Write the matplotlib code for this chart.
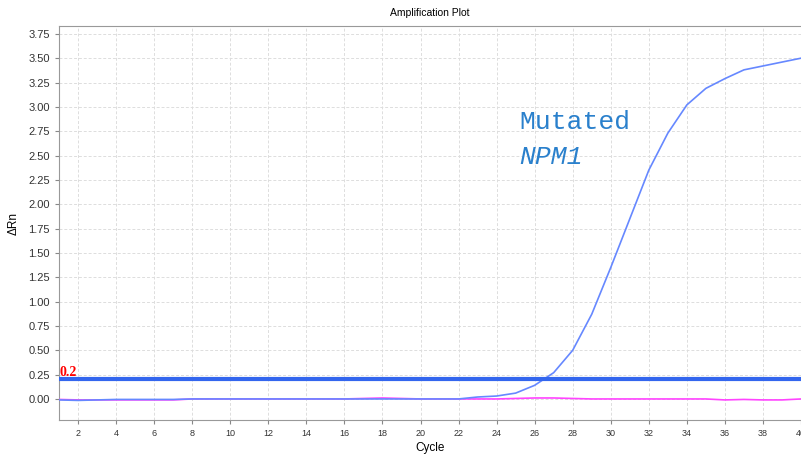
import matplotlib.pyplot as plt
import numpy as np

cycles = list(range(1, 41))
mutated = [-0.01, -0.015, -0.01, -0.005, -0.005, -0.005, -0.005, 0.0, 0.0, 0.0,
           0.0, 0.0, 0.0, 0.0, 0.0, 0.0, 0.0, 0.0, 0.0, 0.0,
           0.0, 0.0, 0.02, 0.03, 0.06, 0.14, 0.27, 0.50, 0.87, 1.35,
           1.85, 2.35, 2.73, 3.02, 3.19, 3.29, 3.38, 3.42, 3.46, 3.50]
control = [-0.005, -0.01, -0.01, -0.01, -0.01, -0.01, -0.01, 0.0, 0.0, 0.0,
           0.0, 0.0, 0.0, 0.0, 0.0, 0.0, 0.005, 0.01, 0.005, 0.0,
           0.0, 0.0, 0.0, 0.0, 0.005, 0.01, 0.01, 0.005, 0.0, 0.0,
           0.0, 0.0, 0.0, 0.0, 0.0, -0.01, -0.005, -0.01, -0.01, 0.0]
threshold = 0.2
y_ticks = np.arange(0, 3.76, 0.25)
x_ticks = list(range(2, 41, 2))

plt.rcParams['font.family'] = ['Liberation Sans', 'DejaVu Sans']

fig = plt.figure(figsize=(8.01, 4.57), dpi=100)
ax = fig.add_axes([0.0737, 0.081, 0.9263, 0.862])

ax.plot(cycles, control, color='#ff44ff', lw=1.2, zorder=3)
ax.plot(cycles, mutated, color='#6688ff', lw=1.2, zorder=4)
ax.axhline(threshold, color='#3366ee', lw=3, zorder=5)
ax.text(1.05, threshold + 0.01, '0.2', color='red', fontsize=10, fontweight='bold',
        family='Liberation Serif', va='bottom', ha='left', zorder=6)

# sample label
ax.text(25.2, 2.84, 'Mutated', family='Liberation Mono', fontsize=19, color='#2a80cc',
        va='center', ha='left')
ax.text(25.2, 2.48, 'NPM1', family='Liberation Mono', fontsize=19, style='italic',
        color='#2a80cc', va='center', ha='left')

ax.set_xlim(1, 40)
ax.set_ylim(-0.216, 3.83)
ax.set_yticks(y_ticks)
ax.set_yticklabels(['%.2f' % v for v in y_ticks], fontsize=8, color='#333333')
ax.set_xticks(x_ticks)
ax.set_xticklabels([str(v) for v in x_ticks], fontsize=6.5, color='#333333')
ax.tick_params(axis='both', direction='out', length=3, color='#888888')

ax.grid(True, color='#dddddd', linestyle=(0, (3, 2)), lw=0.7)
for side in ['left', 'bottom', 'top']:
    ax.spines[side].set_color('#999999')
ax.spines['right'].set_visible(False)

ax.set_title('Amplification Plot', fontsize=7.5, pad=7)
ax.set_xlabel('Cycle', fontsize=8.5, labelpad=3)
ax.set_ylabel('\u0394Rn', fontsize=8.5, labelpad=6)

fig.savefig('out.png', dpi=100)
